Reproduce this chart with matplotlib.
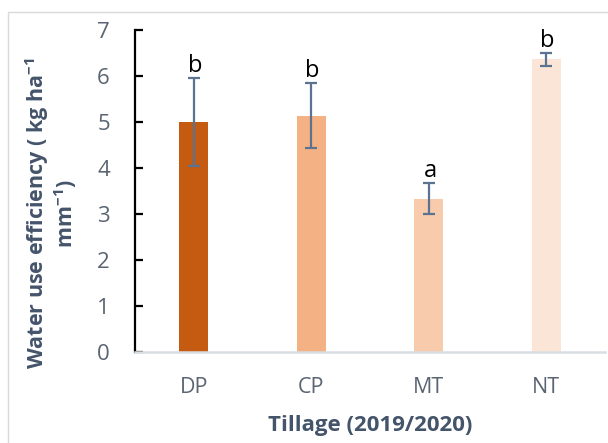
import matplotlib
matplotlib.use("Agg")
import matplotlib.pyplot as plt
from matplotlib.patches import Rectangle

plt.rcParams['font.family'] = ['Open Sans', 'DejaVu Sans']

categories = ["DP", "CP", "MT", "NT"]
wue = [5.0, 5.14, 3.33, 6.36]
err = [0.96, 0.70, 0.34, 0.14]
letters = ["b", "b", "a", "b"]
bar_colors = ["#C55A11", "#F4B183", "#F8CBAD", "#FBE5D6"]
yticks = [0, 1, 2, 3, 4, 5, 6, 7]

fig = plt.figure(figsize=(6.08, 4.43), dpi=100)
fig.patch.set_facecolor("white")
# light frame around the chart area
fig.patches.append(Rectangle((8 / 608, -0.1), 1.2, (443 - 12) / 443 + 0.1,
                             transform=fig.transFigure, fill=False,
                             edgecolor="#D9D9D9", linewidth=1.0))

ax = fig.add_axes([135 / 608, (443 - 352) / 443, (605 - 135) / 608, (352 - 30) / 443])
x = list(range(len(categories)))
ax.bar(x, wue, width=0.25, color=bar_colors, zorder=2)
ax.errorbar(x, wue, yerr=err, fmt="none", ecolor="#5B7391", elinewidth=1.6,
            capsize=4.5, capthick=1.6, zorder=3)
for xi, v, e, lab in zip(x, wue, err, letters):
    ax.annotate(lab, (xi, v + e), xytext=(1, 0), textcoords="offset points",
                ha="center", va="bottom", fontsize=17, color="black")

ax.set_xlim(-0.5, 3.5)
ax.set_ylim(0, 7)
ax.set_yticks(yticks)
ax.set_xticks(x)
ax.set_xticklabels(categories)
for s in ["top", "right"]:
    ax.spines[s].set_visible(False)
ax.spines["left"].set_color("black")
ax.spines["left"].set_linewidth(1.6)
ax.spines["bottom"].set_color("#D9DEE4")
ax.spines["bottom"].set_linewidth(1.8)
ax.tick_params(axis="y", direction="in", length=6, width=1.6, color="black",
               labelsize=16, labelcolor="#5A6472", pad=18)
ax.tick_params(axis="x", length=0, labelsize=15.5, labelcolor="#5A6472", pad=18)

ax.set_xlabel("Tillage (2019/2020)", fontsize=16, fontweight="bold",
              color="#44546A", labelpad=12)
ax.set_ylabel("Water use efficiency ( kg ha$^{\\mathregular{-1}}$\nmm$^{\\mathregular{-1}}$)",
              fontsize=15.5, fontweight="bold", color="#44546A",
              linespacing=1.05)
ax.yaxis.set_label_coords(-0.12, 0.43)

fig.savefig("out.png", dpi=100)
